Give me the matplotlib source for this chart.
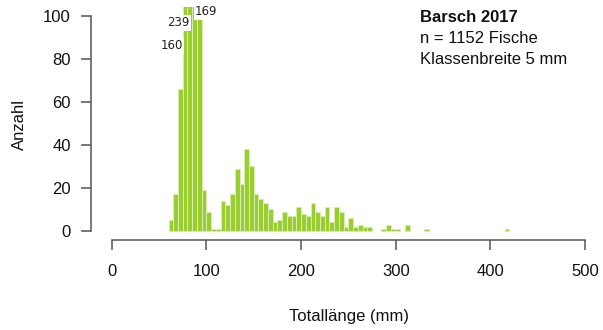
import numpy as np
import matplotlib
matplotlib.use("Agg")
import matplotlib.pyplot as plt

# ------------------------------
# Data
# ------------------------------
bin_width = 5
bin_start = np.arange(60, 420, bin_width)   # left edges 60 ... 415 mm
counts = [
    5, 17, 66, 160, 239, 169, 99, 19, 9, 1,      # 60 - 105
    1, 14, 12, 17, 29, 22, 38, 30, 17, 15,       # 110 - 155
    13, 10, 4, 5, 9, 7, 7, 11, 8, 7,             # 160 - 205
    13, 9, 7, 11, 4, 11, 9, 2, 6, 2,             # 210 - 255
    3, 2, 2, 0, 0, 1, 3, 1, 1, 0,                # 260 - 305
    3, 0, 0, 0, 1, 0, 0, 0, 0, 0,                # 310 - 355
    0, 0, 0, 0, 0, 0, 0, 0, 0, 0,                # 360 - 405
    0, 1,                                        # 410 - 415
]
xticks = [0, 100, 200, 300, 400, 500]
yticks = [0, 20, 40, 60, 80, 100]
y_cap = 100
info_lines = ["Barsch 2017", "n = 1152 Fische", "Klassenbreite 5 mm"]

# label offsets for clipped bars: (x anchor, y, ha)
clip_label_pos = {160: (75.3, 86, "right"), 239: (82.7, 96.7, "right"), 169: (88.0, 101.9, "left")}

plt.rcParams["font.family"] = ["Liberation Sans", "DejaVu Sans"]

fig = plt.figure(figsize=(6.03, 3.30), dpi=100)
ax = fig.add_axes([90.7 / 603, 1 - 239.6 / 330, (603 - 90.7) / 603, (239.6 - 7.1) / 330])

# empty classes are not drawn (no baseline stubs)
counts_arr = np.array(counts)
nz = counts_arr > 0
ax.bar(bin_start[nz], counts_arr[nz], width=bin_width, align="edge",
       color="#9acd32", edgecolor="#d8eeae", linewidth=0.7, zorder=2)

# values above the y limit get a label
for x0, c in zip(bin_start, counts):
    if c > y_cap:
        lx, ly, ha = clip_label_pos[c]
        ax.text(lx, ly, str(c), ha=ha, va="center", fontsize=8.5,
                family="DejaVu Sans", color="#222222", zorder=3,
                bbox=dict(boxstyle="square,pad=0.12", fc="white", ec="none"))

ax.set_xlim(-22.2, 519)
ax.set_ylim(-4, 104)

for s in ["top", "right"]:
    ax.spines[s].set_visible(False)
for s in ["left", "bottom"]:
    ax.spines[s].set_color("#555555")
    ax.spines[s].set_linewidth(1.1)
ax.spines["left"].set_bounds(0, 100)
ax.spines["bottom"].set_bounds(0, 500)

ax.set_xticks(xticks)
ax.set_yticks(yticks)
ax.tick_params(axis="both", direction="out", length=7, width=1.1,
               color="#555555", labelsize=12, labelcolor="#111111")
ax.tick_params(axis="x", pad=10.5)
ax.tick_params(axis="y", pad=7.2)

fig.text(19 / 603, 1 - 124 / 330, "Anzahl", rotation=90, ha="center", va="center",
         fontsize=12, color="#111111")
fig.text(349 / 603, 1 - 316 / 330, "Totallänge (mm)", ha="center", va="center",
         fontsize=12, color="#111111")

for i, line in enumerate(info_lines):
    fig.text(420 / 603, 1 - (17 + 21.5 * i) / 330, line, ha="left", va="center",
             fontsize=12, fontweight="bold" if i == 0 else "normal", color="#111111")

fig.savefig("out.png", dpi=100)
